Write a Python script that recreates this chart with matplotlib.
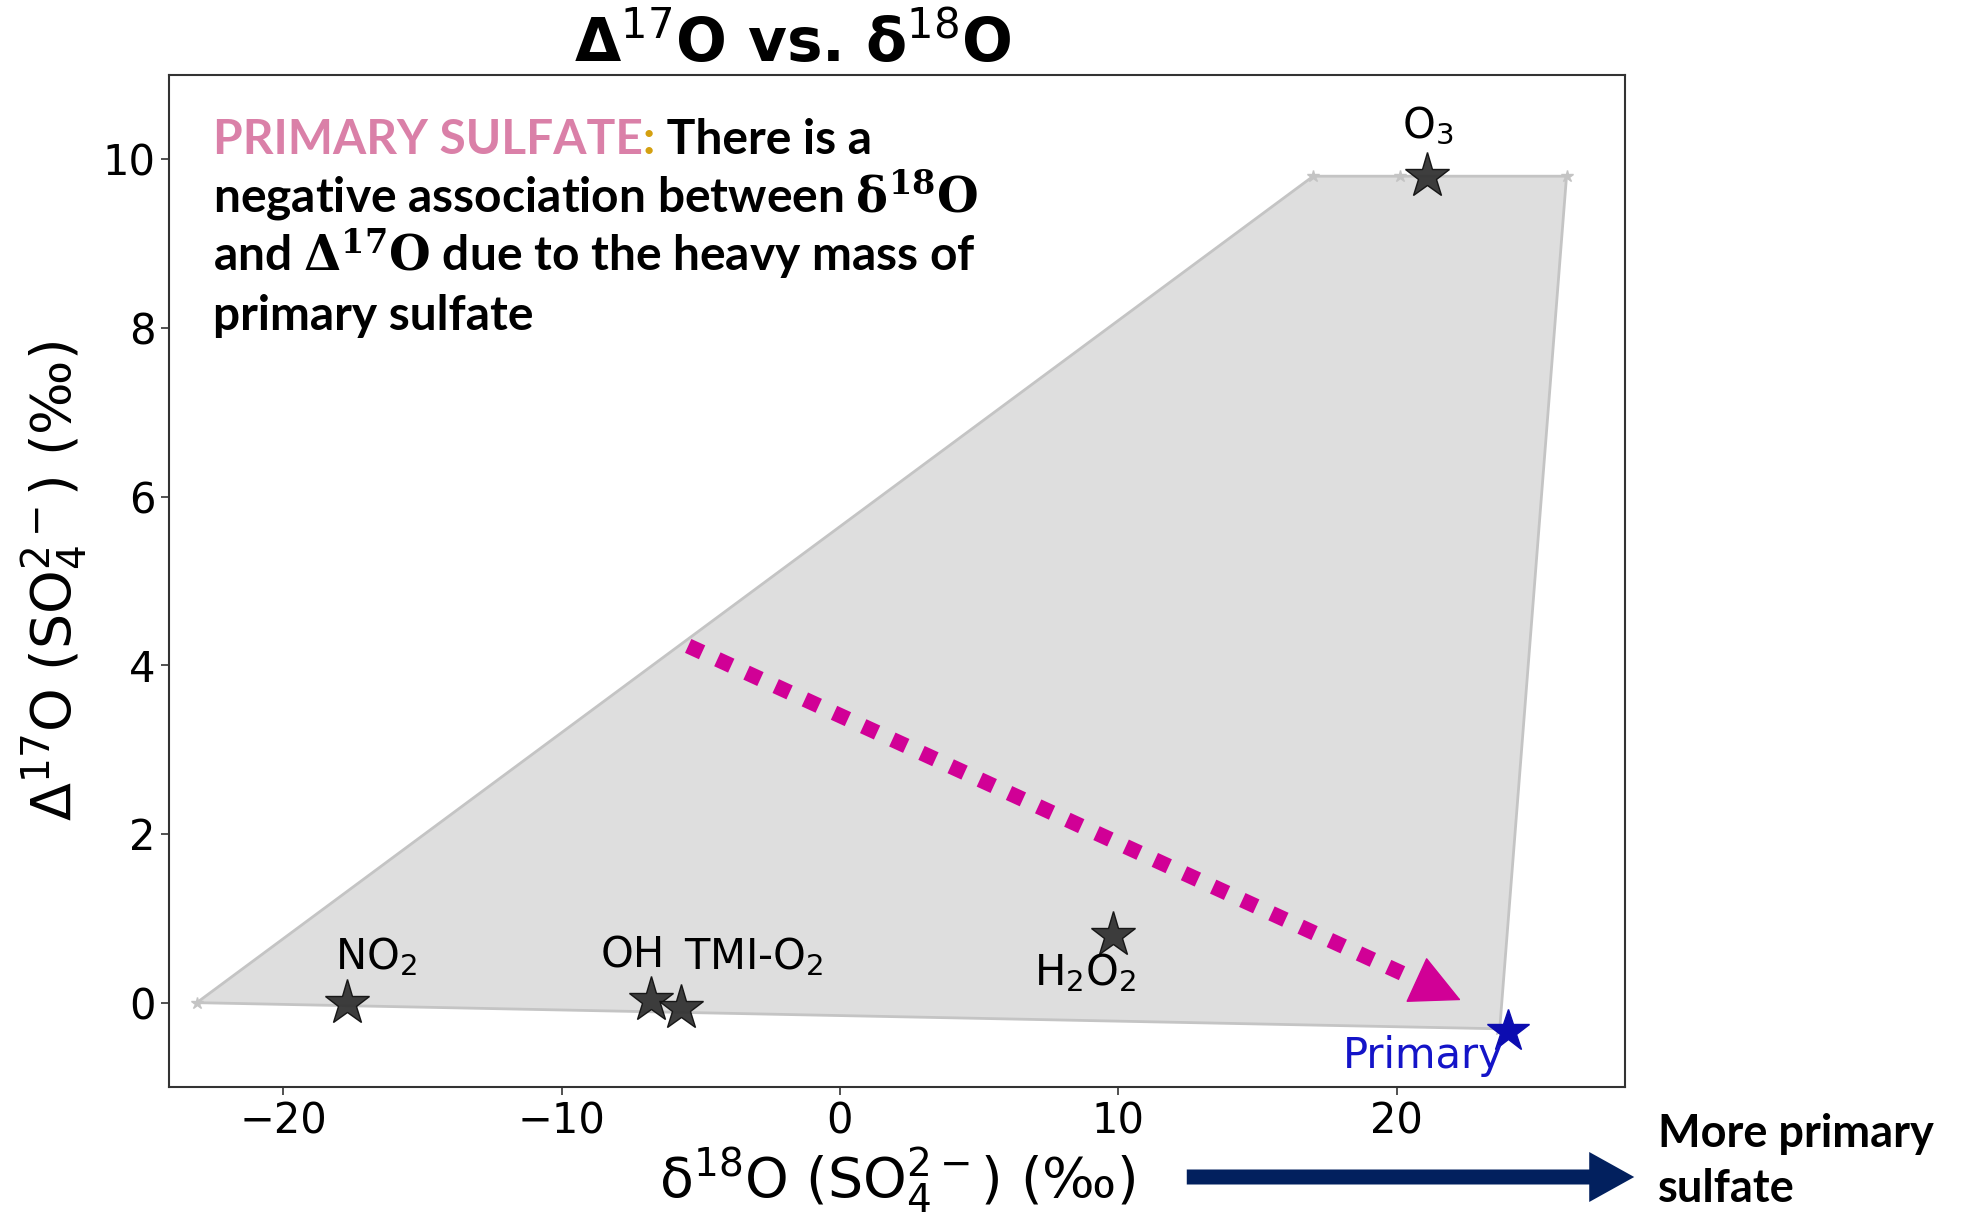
import matplotlib
matplotlib.use("Agg")
import matplotlib.pyplot as plt
from matplotlib.patches import Polygon, FancyArrowPatch

# Oxidant end-members: delta18O and Delta17O of sulfate (permil)
sources = ["NO$_2$", "OH", "TMI-O$_2$", "H$_2$O$_2$", "O$_3$"]
src_d18O = [-17.7, -6.8, -5.7, 9.8, 21.1]
src_D17O = [0.0, 0.03, -0.06, 0.8, 9.8]

primary_name = "Primary"
primary_d18O = 24.0
primary_D17O = -0.34

# Mixing envelope vertices
hull_d18O = [-23.1, 17.0, 20.1, 26.1, 23.7]
hull_D17O = [0.0, 9.8, 9.8, 9.8, -0.31]

# Trend arrow end points (delta18O, Delta17O)
trend_start = (-5.45, 4.23)
trend_end = (22.3, 0.03)

xticks = [-20, -10, 0, 10, 20]
yticks = [0, 2, 4, 6, 8, 10]

W, H, DPI = 1967, 1218, 100
fig = plt.figure(figsize=(W / DPI, H / DPI), dpi=DPI)
ax = fig.add_axes([169 / W, 1 - 1087 / H, (1625 - 169) / W, (1087 - 75) / H])

# Envelope
verts = list(zip(hull_d18O, hull_D17O))
ax.add_patch(Polygon(verts, closed=True, facecolor="#dedede", edgecolor="#c4c4c4",
                     linewidth=2, zorder=1))
ax.plot(hull_d18O, hull_D17O, linestyle="none", marker="*", markersize=9,
        color="#c4c4c4", zorder=2)

# End-member stars
ax.plot(src_d18O, src_D17O, linestyle="none", marker="*", markersize=34,
        markerfacecolor="#333333", markeredgecolor="#111111", markeredgewidth=1,
        alpha=0.95, zorder=4)
ax.plot([primary_d18O], [primary_D17O], linestyle="none", marker="*", markersize=32,
        color="#0c0cb0", zorder=4)

label_offsets = [(21, 33), (-13, 32), (52, 37), (-20, -27), (0, 36)]
for name, x, y, off in zip(sources, src_d18O, src_D17O, label_offsets):
    ax.annotate(name, (x, y), xytext=off, textcoords="offset points",
                ha="center", va="center", fontsize=30, color="black", zorder=5)
ax.annotate(primary_name, (primary_d18O, primary_D17O), xytext=(-61, -18),
            textcoords="offset points", ha="center", va="center",
            fontsize=30, color="#1414c8", zorder=5)

# Trend arrow: square-dotted shaft plus solid head
tc = "#d10096"
dx = trend_end[0] - trend_start[0]
dy = trend_end[1] - trend_start[1]
frac = 0.942
ax.plot([trend_start[0], trend_start[0] + dx * frac],
        [trend_start[1], trend_start[1] + dy * frac],
        color=tc, linewidth=11, dashes=(1.0, 1.1), solid_capstyle="butt",
        dash_capstyle="butt", zorder=3)
ax.annotate("", xy=trend_end,
            xytext=(trend_start[0] + dx * 0.944, trend_start[1] + dy * 0.944),
            arrowprops=dict(arrowstyle="-|>,head_length=1.2,head_width=0.6",
                            color=tc, lw=1, mutation_scale=28, shrinkA=0, shrinkB=0),
            zorder=3)

ax.set_xlim(-24.1, 28.2)
ax.set_ylim(-1.0, 11.0)
ax.set_xticks(xticks)
ax.set_yticks(yticks)
ax.tick_params(labelsize=30, length=6, width=1.2, color="#333333")
for s in ax.spines.values():
    s.set_color("#333333")
    s.set_linewidth(1.5)

ax.set_xlabel(r"δ$^{18}$O (SO$_4^{2-}$) (‰)", fontsize=40, labelpad=2)
ax.set_ylabel(r"Δ$^{17}$O (SO$_4^{2-}$) (‰)", fontsize=40, labelpad=10)

fig.text(793 / W, 1 - 62 / H, r"Δ$^{17}$O vs. δ$^{18}$O", ha="center", va="baseline",
         fontsize=43, fontweight="bold")

# Explanatory note
fam = ["Lato", "DejaVu Sans"]
nfs = 34.5
x0 = (213 - 169) / (1625 - 169)
t1 = ax.text(x0, 0.922, "PRIMARY SULFATE", transform=ax.transAxes, ha="left",
             va="baseline", fontsize=nfs, fontweight="bold", family=fam, color="#da80a8")
t2 = ax.annotate(":", xy=(1, 0), xycoords=t1, ha="left", va="bottom", fontsize=nfs,
                 fontweight="bold", family=fam, color="#d4a010")
ax.annotate(" There is a", xy=(1, 0), xycoords=t2, ha="left", va="bottom", fontsize=nfs,
            fontweight="bold", family=fam, color="black")
lines = [r"negative association between $\mathbf{\delta^{18}O}$",
         r"and $\mathbf{\Delta^{17}O}$ due to the heavy mass of",
         "primary sulfate"]
for ln, yb in zip(lines, [0.864, 0.806, 0.748]):
    ax.text(x0, yb, ln, transform=ax.transAxes, ha="left", va="baseline",
            fontsize=nfs, fontweight="bold", family=fam, color="black",
            math_fontfamily="dejavuserif")

# Direction indicator below the axes
arr = FancyArrowPatch((1184 / W, 1 - 1177 / H), (1637 / W, 1 - 1177 / H),
                      transform=fig.transFigure,
                      arrowstyle="simple,head_length=0.9,head_width=1.0,tail_width=0.3",
                      mutation_scale=36, color="#02205e", linewidth=0)
fig.add_artist(arr)
fig.text(1658 / W, 1 - 1202 / H, "More primary\nsulfate", ha="left", va="baseline",
         fontsize=32.5, fontweight="bold", family=fam, linespacing=1.38)

fig.savefig("out.png", dpi=DPI)
